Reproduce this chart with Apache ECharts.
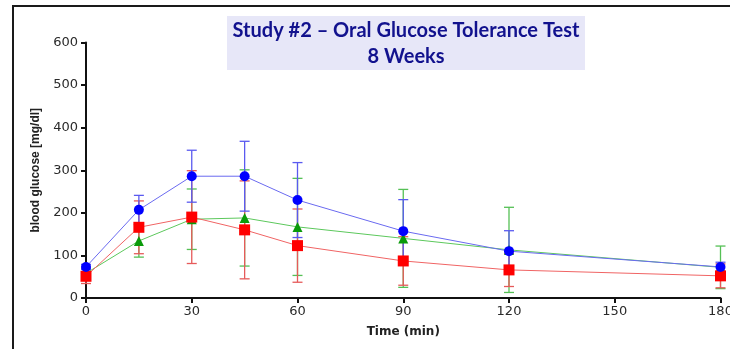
<!DOCTYPE html>
<html>
<head>
<meta charset="utf-8">
<script src="https://cdn.jsdelivr.net/npm/echarts@6/dist/echarts.min.js"></script>
<style>html,body{margin:0;padding:0;background:#fff}#c{width:730px;height:349px}</style>
</head>
<body>
<div id="c"></div>
<script>
var times = [0, 15, 30, 45, 60, 90, 120, 180];
var blueMean = [73, 207, 286, 286, 230, 157, 110, 73];
var blueSD = [6, 34, 61, 82, 88, 74, 48, 11];
var redMean = [51, 166, 190, 160, 123, 87, 66, 52];
var redSD = [17, 62, 109, 115, 86, 57, 39, 28];
var greenMean = [58, 134, 185, 188, 167, 140, 113, 72];
var greenSD = [10, 38, 71, 113, 114, 115, 100, 50];
var xTicks = [0, 30, 60, 90, 120, 150, 180];
var yTicks = [0, 100, 200, 300, 400, 500, 600];
var titleLine1 = 'Study #2 \u2013 Oral Glucose Tolerance Test';
var titleLine2 = '8 Weeks';

var chart = echarts.init(document.getElementById('c'));

function pts(mean) { return times.map(function (t, i) { return [t, mean[i]]; }); }
function errData(mean, sd) { return times.map(function (t, i) { return [t, mean[i] - sd[i], mean[i] + sd[i]]; }); }
function errSeries(mean, sd, color) {
  return {
    type: 'custom', silent: true, z: 2,
    data: errData(mean, sd),
    renderItem: function (params, api) {
      var lo = api.coord([api.value(0), api.value(1)]);
      var hi = api.coord([api.value(0), api.value(2)]);
      var w = 5;
      var st = { stroke: color, lineWidth: 1.3 };
      return {
        type: 'group', children: [
          { type: 'line', shape: { x1: lo[0], y1: lo[1], x2: hi[0], y2: hi[1] }, style: st },
          { type: 'line', shape: { x1: lo[0] - w, y1: lo[1], x2: lo[0] + w, y2: lo[1] }, style: st },
          { type: 'line', shape: { x1: hi[0] - w, y1: hi[1], x2: hi[0] + w, y2: hi[1] }, style: st }
        ]
      };
    }
  };
}
function lineSeries(mean, lineColor, markColor, symbol, size, z) {
  return {
    type: 'line', data: pts(mean), symbol: symbol, symbolSize: size, z: z,
    lineStyle: { color: lineColor, width: 1 },
    itemStyle: { color: markColor },
    showSymbol: true, animation: false
  };
}

var option = {
  animation: false,
  grid: { left: 86, right: 9.5, top: 42.5, bottom: 51, containLabel: false, outerBoundsMode: 'none' },
  xAxis: {
    type: 'value', min: 0, max: 180, interval: 30,
    name: 'Time (min)', nameLocation: 'middle', nameGap: 28,
    nameTextStyle: { fontFamily: 'DejaVu Sans', fontWeight: 'bold', fontSize: 12, color: '#222' },
    axisLine: { show: true, onZero: false, lineStyle: { color: '#111', width: 2 } },
    axisTick: { show: true, length: 5, lineStyle: { color: '#111', width: 2 } },
    axisLabel: { fontFamily: 'DejaVu Sans', fontSize: 13, color: '#2a2a2a', margin: 7,
      formatter: function (v) { return xTicks.indexOf(v) >= 0 ? String(v) : ''; } },
    splitLine: { show: false }
  },
  yAxis: {
    type: 'value', min: 0, max: 600, interval: 100,
    name: 'blood glucose [mg/dl]', nameLocation: 'middle', nameGap: 44, nameRotate: 90,
    nameTextStyle: { fontFamily: 'Liberation Sans', fontWeight: 'bold', fontSize: 12, color: '#222' },
    axisLine: { show: true, lineStyle: { color: '#111', width: 2 } },
    axisTick: { show: true, length: 5, lineStyle: { color: '#111', width: 2 } },
    axisLabel: { fontFamily: 'DejaVu Sans', fontSize: 13, color: '#2a2a2a', margin: 8,
      formatter: function (v) { return yTicks.indexOf(v) >= 0 ? String(v) : ''; } },
    splitLine: { show: false }
  },
  graphic: [
    { type: 'rect', shape: { x: 13, y: 6, width: 740, height: 380 },
      style: { fill: 'none', stroke: '#1a1a1a', lineWidth: 2 }, z: 0 },
    { type: 'rect', shape: { x: 227, y: 16, width: 358, height: 54 }, style: { fill: '#e7e7f8' }, z: 1 },
    { type: 'text', x: 406, y: 31, style: { text: titleLine1, fill: '#12128e', font: 'bold 20px Lato',
      textAlign: 'center', textVerticalAlign: 'middle' }, z: 2 },
    { type: 'text', x: 406, y: 57, style: { text: titleLine2, fill: '#12128e', font: 'bold 20px Lato',
      textAlign: 'center', textVerticalAlign: 'middle' }, z: 2 }
  ],
  series: [
    errSeries(greenMean, greenSD, '#55c055'),
    errSeries(redMean, redSD, '#e65a5a'),
    errSeries(blueMean, blueSD, '#5a5af0'),
    lineSeries(greenMean, '#5cc85c', '#0a9a0a', 'triangle', 10, 3),
    lineSeries(redMean, '#f06464', '#ff0000', 'rect', 11, 4),
    lineSeries(blueMean, '#6a6af0', '#0000ff', 'circle', 10, 5)
  ]
};
chart.setOption(option);
</script>
</body>
</html>
